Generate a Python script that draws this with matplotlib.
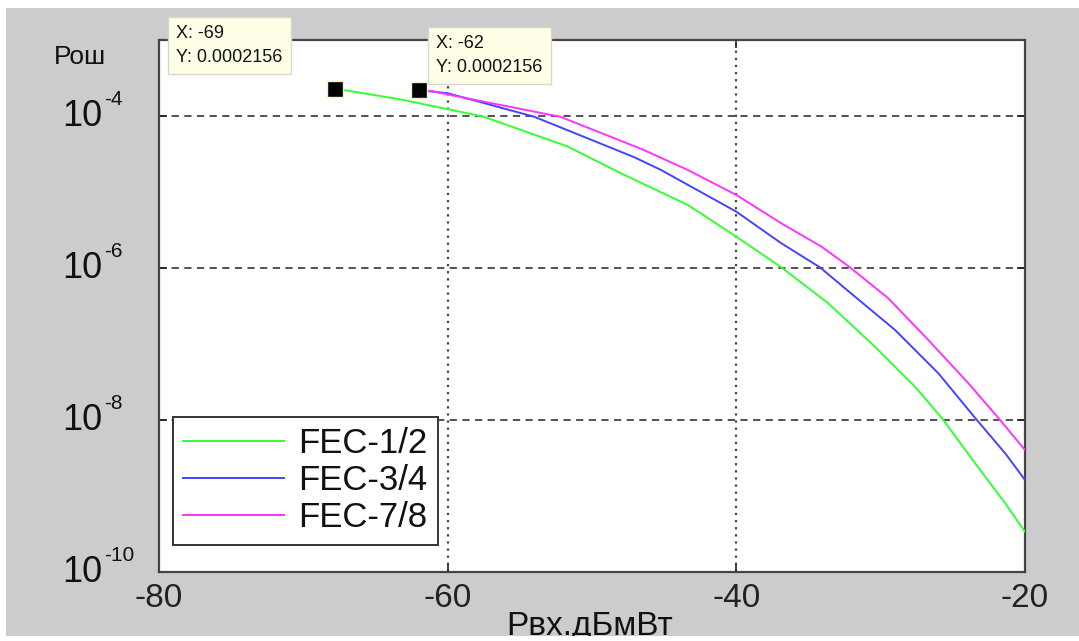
import matplotlib
matplotlib.use("Agg")
import matplotlib.pyplot as plt
from matplotlib.patches import Rectangle
import numpy as np

plt.rcParams['font.family'] = ['Liberation Sans', 'DejaVu Sans']

# curves (x in dBm, y as log10 of error probability)
x_12 = [-67.8, -63.3, -60.0, -57.5, -51.7, -48.0, -43.35, -40.0, -36.88, -33.63, -30.4,
        -27.62, -25.76, -23.45, -21.37, -20.0]
lg_12 = [-3.64, -3.78, -3.91, -4.01, -4.40, -4.754, -5.171, -5.588, -5.991, -6.465, -7.035,
         -7.562, -7.974, -8.570, -9.096, -9.469]
x_34 = [-62.0, -60.0, -54.0, -47.1, -45.21, -40.0, -36.88, -34.21, -31.78, -29.0, -26.0,
        -23.45, -21.37, -20.0]
lg_34 = [-3.66, -3.70, -4.01, -4.54, -4.711, -5.259, -5.675, -5.991, -6.377, -6.816, -7.386,
         -7.974, -8.439, -8.789]
x_78 = [-62.0, -57.0, -52.2, -46.5, -43.35, -40.0, -36.88, -34.1, -32.13, -29.47, -26.7,
        -23.92, -21.84, -20.0]
lg_78 = [-3.64, -3.83, -4.01, -4.44, -4.711, -5.039, -5.412, -5.719, -5.991, -6.399, -6.947,
         -7.517, -7.974, -8.395]

names = ['FEC-1/2', 'FEC-3/4', 'FEC-7/8']
colors = ['#33ff33', '#4444ff', '#ff33ff']

# data tips
tip_x = [-69, -62]
tip_y = ['0.0002156', '0.0002156']

y_exp = [-10, -8, -6, -4]

W, H = 1079, 641
fig = plt.figure(figsize=(W/100, H/100), dpi=100, facecolor='white')
fig.patches.append(Rectangle((6/W, 5/H), 1-6/W, 1-13/H, transform=fig.transFigure,
                             facecolor='#cccccc', edgecolor='none', zorder=-5))

ax = fig.add_axes([159/W, 1-572/H, 866/W, 532/H])
ax.set_facecolor('white')

for xs, lg, name, c in zip([x_12, x_34, x_78], [lg_12, lg_34, lg_78], names, colors):
    ax.plot(xs, np.power(10.0, lg), color=c, lw=1.4, label=name, zorder=3)

# tip markers sit at the starting points of the curves
ax.plot([x_12[0], x_34[0]], [10**lg_12[0], 10**lg_34[0]], 's', color='black',
        markersize=12, markeredgecolor='#f4f0d0', markeredgewidth=1, zorder=5)

ax.set_yscale('log')
ax.set_xlim(-80, -20)
ax.set_ylim(1e-10, 1e-3)
ax.set_xticks([-80, -60, -40, -20])
ax.set_xticklabels(['-80', '-60', '-40', '-20'])
ax.set_yticks([10.0**e for e in y_exp])
ax.set_yticklabels([])
ax.minorticks_off()
ax.tick_params(direction='in', length=6, width=1.2, labelsize=24, colors='#222222',
               top=True, right=True, pad=8)
for s in ax.spines.values():
    s.set_color('#444444')
    s.set_linewidth(1.6)

# matlab style labels: big "10", small raised exponent
ytr = ax.get_yaxis_transform()
for e in y_exp:
    ax.text(-57/866, 10.0**e, '10', transform=ytr, ha='right', va='center', fontsize=26,
            color='#111111', clip_on=False)
    ax.annotate('%d' % e, xy=(-55/866, 10.0**e), xycoords=ytr, xytext=(0, 17),
                textcoords='offset pixels', ha='left', va='center', fontsize=15,
                color='#111111', annotation_clip=False)

for v in [1e-8, 1e-6, 1e-4]:
    ax.axhline(v, color='#444444', lw=1.3, ls=(0, (4, 3)), zorder=1)
for v in [-60, -40]:
    ax.axvline(v, color='#444444', lw=1.6, ls=(0, (1, 2.2)), zorder=1)

leg = ax.legend(loc='lower left', bbox_to_anchor=(0.016, 0.051), borderaxespad=0,
                fontsize=25, handlelength=2.9, handletextpad=0.4, labelspacing=0.12,
                borderpad=0.3, fancybox=False, framealpha=1, edgecolor='#333333')
leg.get_frame().set_linewidth(1.4)
for t in leg.get_texts():
    t.set_color('#111111')

# data tip boxes
box_pos = [(176, 25), (436, 35)]
for (px, py), tx, ty in zip(box_pos, tip_x, tip_y):
    fig.text(px/W, 1-py/H, 'X: %d\nY: %s' % (tx, ty), ha='left', va='top', fontsize=13,
             color='#111111', linespacing=1.5, zorder=10,
             bbox=dict(boxstyle='square,pad=0.45', facecolor='#ffffe8', edgecolor='#d8d8c8', lw=1))

fig.text(80/W, 1-57/H, 'Рош', ha='center', va='center', fontsize=19, color='#111111')
fig.text(590/W, 1-611/H, 'Рвх.дБмВт', ha='center', va='top', fontsize=24, color='#111111')
fig.patches.append(Rectangle((0, 0), 1, 5/H, transform=fig.transFigure,
                             facecolor='white', edgecolor='none', zorder=20))

fig.savefig('out.png', dpi=100, facecolor='white')
